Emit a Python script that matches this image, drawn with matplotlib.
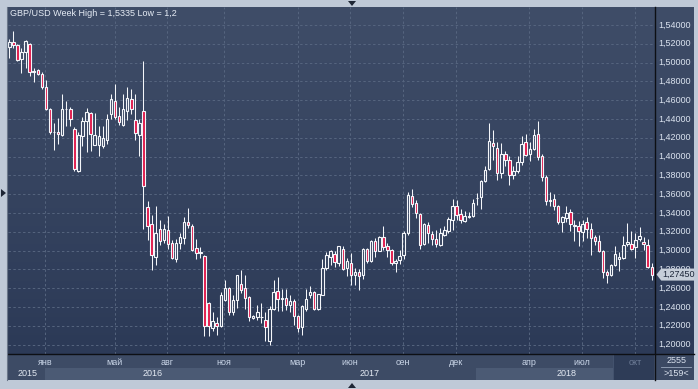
import numpy as np
import matplotlib.pyplot as plt
from matplotlib.patches import Rectangle, Polygon
from matplotlib.lines import Line2D
from matplotlib.colors import LinearSegmentedColormap

plt.rcParams['font.family'] = ['Liberation Sans', 'DejaVu Sans']

# weekly GBP/USD candles
opens = [1.5170, 1.5219, 1.5188, 1.5035, 1.5110, 1.5195, 1.4904, 1.4922, 1.4876, 1.4738,
         1.4504, 1.4257, 1.4260, 1.4232, 1.4502, 1.4504, 1.4295, 1.3842, 1.4214, 1.4377,
         1.4462, 1.4126, 1.4126, 1.4115, 1.4172, 1.4448, 1.4593, 1.4434, 1.4341, 1.4490,
         1.4614, 1.4391, 1.4225, 1.4490, 1.3464, 1.3287, 1.2933, 1.3230, 1.3117, 1.3223,
         1.3084, 1.2907, 1.3081, 1.3134, 1.3304, 1.3262, 1.3027, 1.2979, 1.2942, 1.2441,
         1.2178, 1.2228, 1.2196, 1.2470, 1.2601, 1.2352, 1.2470, 1.2647, 1.2601, 1.2502,
         1.2281, 1.2292, 1.2290, 1.2264, 1.2043, 1.2381, 1.2569, 1.2480, 1.2495, 1.2416,
         1.2463, 1.2299, 1.2186, 1.2381, 1.2523, 1.2558, 1.2374, 1.2530, 1.2814, 1.2931,
         1.2967, 1.2868, 1.3020, 1.2815, 1.2868, 1.2737, 1.2772, 1.2744, 1.3017, 1.2886,
         1.3105, 1.2999, 1.3144, 1.3045, 1.3010, 1.2868, 1.2896, 1.2957, 1.3187, 1.3577,
         1.3506, 1.3393, 1.3070, 1.3276, 1.3176, 1.3123, 1.3063, 1.3162, 1.3205, 1.3329,
         1.3471, 1.3389, 1.3311, 1.3357, 1.3364, 1.3559, 1.3570, 1.3737, 1.3868, 1.4144,
         1.4091, 1.3825, 1.4031, 1.3967, 1.3808, 1.3843, 1.3942, 1.4155, 1.4027, 1.4084,
         1.4244, 1.4003, 1.3779, 1.3524, 1.3549, 1.3478, 1.3300, 1.3347, 1.3407, 1.3258,
         1.3265, 1.3194, 1.3300, 1.3233, 1.3141, 1.3105, 1.2999, 1.2772, 1.2737, 1.2850,
         1.2910, 1.2921, 1.3070, 1.3070, 1.3035, 1.3123, 1.3095, 1.3063, 1.2825]
highs = [1.5248, 1.5335, 1.5198, 1.5152, 1.5241, 1.5212, 1.4947, 1.4933, 1.4904, 1.4816,
         1.4515, 1.4356, 1.4409, 1.4667, 1.4586, 1.4526, 1.4313, 1.4260, 1.4426, 1.4515,
         1.4469, 1.4462, 1.4327, 1.4320, 1.4455, 1.4667, 1.4773, 1.4526, 1.4667, 1.4745,
         1.4720, 1.4667, 1.4398, 1.5018, 1.3531, 1.3382, 1.3478, 1.3322, 1.3283, 1.3372,
         1.3109, 1.3127, 1.3187, 1.3358, 1.3454, 1.3287, 1.3127, 1.3038, 1.2949, 1.2452,
         1.2345, 1.2292, 1.2558, 1.2683, 1.2612, 1.2523, 1.2743, 1.2789, 1.2743, 1.2516,
         1.2313, 1.2416, 1.2445, 1.2345, 1.2409, 1.2683, 1.2718, 1.2594, 1.2587, 1.2523,
         1.2487, 1.2310, 1.2416, 1.2587, 1.2622, 1.2566, 1.2541, 1.2914, 1.2985, 1.3002,
         1.2992, 1.3052, 1.3045, 1.2921, 1.2974, 1.2815, 1.2804, 1.3027, 1.3027, 1.3116,
         1.3134, 1.3159, 1.3265, 1.3081, 1.3017, 1.2910, 1.3003, 1.3205, 1.3620, 1.3655,
         1.3542, 1.3400, 1.3293, 1.3300, 1.3205, 1.3215, 1.3240, 1.3265, 1.3354, 1.3549,
         1.3542, 1.3442, 1.3418, 1.3407, 1.3549, 1.3613, 1.3747, 1.3903, 1.4357, 1.4286,
         1.4152, 1.4144, 1.4056, 1.4003, 1.3903, 1.4003, 1.4222, 1.4244, 1.4152, 1.4293,
         1.4377, 1.4027, 1.3808, 1.3620, 1.3605, 1.3488, 1.3371, 1.3478, 1.3442, 1.3329,
         1.3311, 1.3329, 1.3357, 1.3293, 1.3169, 1.3169, 1.3010, 1.2797, 1.2861, 1.3052,
         1.2981, 1.3152, 1.3293, 1.3212, 1.3187, 1.3247, 1.3141, 1.3123, 1.2868]
lows = [1.5046, 1.5152, 1.5021, 1.4894, 1.4947, 1.4858, 1.4798, 1.4869, 1.4720, 1.4497,
        1.4242, 1.4072, 1.4136, 1.4221, 1.4327, 1.4320, 1.3842, 1.3832, 1.4108, 1.4044,
        1.4055, 1.4124, 1.4002, 1.4090, 1.4136, 1.4402, 1.4398, 1.4338, 1.4327, 1.4391,
        1.4451, 1.4179, 1.4002, 1.3230, 1.3117, 1.2798, 1.2844, 1.3060, 1.3081, 1.3018,
        1.2907, 1.2878, 1.3020, 1.3066, 1.3240, 1.2995, 1.2914, 1.2921, 1.2090, 1.2090,
        1.2143, 1.2107, 1.2186, 1.2459, 1.2310, 1.2310, 1.2388, 1.2548, 1.2374, 1.2246,
        1.2267, 1.2257, 1.2232, 1.2043, 1.2000, 1.2370, 1.2356, 1.2356, 1.2370, 1.2345,
        1.2210, 1.2139, 1.2104, 1.2356, 1.2498, 1.2370, 1.2372, 1.2523, 1.2789, 1.2843,
        1.2825, 1.2832, 1.2790, 1.2726, 1.2637, 1.2630, 1.2577, 1.2698, 1.2868, 1.2879,
        1.2928, 1.2992, 1.3010, 1.2928, 1.2850, 1.2769, 1.2861, 1.2910, 1.3162, 1.3464,
        1.3347, 1.3017, 1.3063, 1.3081, 1.3063, 1.3038, 1.3052, 1.3152, 1.3187, 1.3215,
        1.3329, 1.3293, 1.3308, 1.3347, 1.3357, 1.3488, 1.3446, 1.3726, 1.3854, 1.3967,
        1.3754, 1.3772, 1.3896, 1.3701, 1.3761, 1.3825, 1.3914, 1.4003, 1.3957, 1.4074,
        1.3967, 1.3737, 1.3481, 1.3471, 1.3428, 1.3286, 1.3194, 1.3300, 1.3205, 1.3098,
        1.3045, 1.3098, 1.3134, 1.2949, 1.3063, 1.2981, 1.2708, 1.2655, 1.2726, 1.2840,
        1.2779, 1.2914, 1.3052, 1.3010, 1.2921, 1.3105, 1.3010, 1.2815, 1.2691]
closes = [1.5219, 1.5191, 1.5028, 1.5110, 1.5230, 1.4897, 1.4906, 1.4876, 1.4745, 1.4508,
          1.4257, 1.4259, 1.4235, 1.4504, 1.4504, 1.4398, 1.3867, 1.4225, 1.4377, 1.4472,
          1.4235, 1.4228, 1.4218, 1.4200, 1.4402, 1.4611, 1.4416, 1.4363, 1.4504, 1.4625,
          1.4511, 1.4249, 1.4356, 1.3683, 1.3258, 1.2950, 1.3187, 1.3099, 1.3230, 1.3074,
          1.2921, 1.3081, 1.3145, 1.3304, 1.3269, 1.3002, 1.2974, 1.2984, 1.2196, 1.2196,
          1.2246, 1.2193, 1.2523, 1.2601, 1.2352, 1.2477, 1.2736, 1.2583, 1.2495, 1.2292,
          1.2303, 1.2345, 1.2294, 1.2186, 1.2381, 1.2558, 1.2480, 1.2495, 1.2423, 1.2463,
          1.2299, 1.2175, 1.2406, 1.2487, 1.2558, 1.2374, 1.2534, 1.2814, 1.2949, 1.2992,
          1.2875, 1.3045, 1.2804, 1.2886, 1.2740, 1.2772, 1.2726, 1.3017, 1.2886, 1.3105,
          1.2999, 1.3144, 1.3038, 1.3010, 1.2868, 1.2893, 1.2946, 1.3187, 1.3595, 1.3499,
          1.3400, 1.3056, 1.3283, 1.3187, 1.3123, 1.3070, 1.3187, 1.3222, 1.3340, 1.3471,
          1.3382, 1.3322, 1.3364, 1.3371, 1.3506, 1.3563, 1.3737, 1.3861, 1.4162, 1.4109,
          1.3825, 1.4031, 1.3967, 1.3808, 1.3843, 1.3942, 1.4134, 1.4013, 1.4084, 1.4233,
          1.3996, 1.3779, 1.3531, 1.3542, 1.3471, 1.3300, 1.3354, 1.3400, 1.3283, 1.3276,
          1.3212, 1.3283, 1.3230, 1.3134, 1.3105, 1.2999, 1.2772, 1.2737, 1.2850, 1.2967,
          1.2928, 1.3056, 1.3088, 1.3017, 1.3116, 1.3159, 1.3074, 1.2825, 1.2745]

# month labels at their bar index, year labels
month_pos = [8.9, 25.9, 38.8, 52.8, 70.9, 83.8, 96.8, 109.9, 127.8, 140.9, 153.9]
month_lbl = ['янв', 'май', 'авг', 'ноя', 'мар', 'июн', 'сен', 'дек', 'апр', 'июл', 'окт']
year_pos = [4.6, 35.3, 88.5, 137.0]
year_lbl = ['2015', '2016', '2017', '2018']
year_edges = [8.8, 61.7, 114.8, 148.5]
levels = np.arange(1.20, 1.5401, 0.02)
last_price = 1.2745

W, H = 698, 389
fig = plt.figure(figsize=(W / 100, H / 100), dpi=100)
fig.patch.set_facecolor('#bfc9d7')


def box(x0, y0, x1, y1):
    # pixel box (top-left origin) -> figure rect
    return [x0 / W, 1 - y1 / H, (x1 - x0) / W, (y1 - y0) / H]


def fxy(x, y):
    return (x / W, 1 - y / H)


x_lo, x_hi = -0.32, 158.8
y_lo, y_hi = 1.19, 1.5591

ax = fig.add_axes(box(8, 7, 655, 354))
ax_r = fig.add_axes(box(655, 7, 694, 354))
ax_b = fig.add_axes(box(8, 354, 655, 380))
ax_c = fig.add_axes(box(655, 354, 694, 380))
for a in (ax, ax_r, ax_b, ax_c):
    a.set_axis_off()

grad_cmap = LinearSegmentedColormap.from_list('bg', ['#2c3a57', '#3f4d68'])
grad = np.linspace(0, 1, 256).reshape(-1, 1)
ax.imshow(grad, extent=[x_lo, x_hi, y_lo, y_hi], origin='lower', aspect='auto',
          cmap=grad_cmap, zorder=0)
ax_r.imshow(grad, extent=[0, 1, y_lo, y_hi], origin='lower', aspect='auto',
            cmap=grad_cmap, zorder=0)

# dashed grid
for lv in levels:
    ax.axhline(lv, color='#56657f', lw=0.7, ls=(0, (2.5, 2.5)), zorder=1)
for mp in month_pos:
    ax.axvline(mp, color='#56657f', lw=0.7, ls=(0, (2.5, 2.5)), zorder=1)

# candles
bw = 0.6
for i, (o, h, l, c) in enumerate(zip(opens, highs, lows, closes)):
    top, bot = max(o, c), min(o, c)
    ax.plot([i, i], [top, h], color='#f4f6fa', lw=0.75, zorder=2, solid_capstyle='butt')
    ax.plot([i, i], [l, bot], color='#f4f6fa', lw=0.75, zorder=2, solid_capstyle='butt')
    fc = '#e0194b' if c < o else 'none'
    ax.add_patch(Rectangle((i - bw / 2, bot), bw, top - bot, facecolor=fc,
                           edgecolor='#f4f6fa', lw=0.8, zorder=3))

ax.set_xlim(x_lo, x_hi)
ax.set_ylim(y_lo, y_hi)

# right price scale
ax_r.set_xlim(0, 1)
ax_r.set_ylim(y_lo, y_hi)
for lv in levels:
    ax_r.text(0.08, lv, f'{lv:.5f}'.replace('.', ','), color='#dbe3ef', fontsize=6.5,
              va='center', ha='left', zorder=2)
hh = 0.0064
ax_r.add_patch(Polygon([(0.04, last_price), (0.16, last_price + hh), (1.0, last_price + hh),
                        (1.0, last_price - hh), (0.16, last_price - hh)],
                       closed=True, facecolor='#c6ced9', edgecolor='none', zorder=3))
ax_r.text(0.18, last_price, f'{last_price:.5f}'.replace('.', ','), color='#1b2538',
          fontsize=6.5, va='center', ha='left', zorder=4)

# bottom time scale
ax_b.set_xlim(x_lo, x_hi)
ax_b.set_ylim(0, 1)
ax_b.add_patch(Rectangle((x_lo, 0), x_hi - x_lo, 1, facecolor='#3d4b65', edgecolor='none', zorder=0))
ax_b.add_patch(Rectangle((year_edges[0], 0), year_edges[1] - year_edges[0], 0.47,
                         facecolor='#4b5a74', edgecolor='none', zorder=1))
ax_b.add_patch(Rectangle((year_edges[2], 0), year_edges[3] - year_edges[2], 0.47,
                         facecolor='#4b5a74', edgecolor='none', zorder=1))
ax_b.add_patch(Rectangle((year_edges[3], 0), x_hi - year_edges[3] - 0.3, 1,
                         facecolor='#2e3c57', edgecolor='#465571', lw=0.6, zorder=1))
for mp, ml in zip(month_pos, month_lbl):
    col = '#6f7e98' if ml == 'окт' else '#c9d5e7'
    ax_b.text(mp, 0.66, ml, color=col, fontsize=6.5, ha='center', va='center', zorder=2)
for yp, yl in zip(year_pos, year_lbl):
    ax_b.text(yp, 0.25, yl, color='#e4eaf3', fontsize=6.5, ha='center', va='center', zorder=2)

# bottom-right counter box
ax_c.set_xlim(0, 1)
ax_c.set_ylim(0, 1)
ax_c.add_patch(Rectangle((0, 0), 1, 1, facecolor='#3b4963', edgecolor='none'))
ax_c.text(0.55, 0.74, '2555', color='#dbe3ef', fontsize=6.5, ha='center', va='center')
ax_c.plot([0.15, 0.92], [0.49, 0.49], color='#9aa8bd', lw=0.6)
ax_c.text(0.55, 0.24, '>159<', color='#dbe3ef', fontsize=6.5, ha='center', va='center')

# frame lines
fig.add_artist(Line2D([655 / W, 655 / W], [1 - 7 / H, 1 - 380 / H], color='#0d0f14', lw=1.0))
fig.add_artist(Line2D([8 / W, 694 / W], [1 - 354 / H, 1 - 354 / H], color='#0d0f14', lw=1.0))
fig.add_artist(Line2D([7.5 / W, 7.5 / W], [1 - 7 / H, 1 - 380 / H], color='#6b778a', lw=0.8))

# small scroll markers
fig.add_artist(Polygon([fxy(348, 1), fxy(356, 1), fxy(352, 6)], closed=True,
                       facecolor='#1e2635', edgecolor='none', transform=fig.transFigure))
fig.add_artist(Polygon([fxy(348, 388), fxy(356, 388), fxy(352, 383)], closed=True,
                       facecolor='#1e2635', edgecolor='none', transform=fig.transFigure))
fig.add_artist(Polygon([fxy(1, 189), fxy(1, 197), fxy(6, 193)], closed=True,
                       facecolor='#1e2635', edgecolor='none', transform=fig.transFigure))

fig.text(10 / W, 1 - 13.5 / H, 'GBP/USD Week High = 1,5335 Low = 1,2', color='#e6ecf5',
         fontsize=6.5, ha='left', va='center')

fig.savefig('out.png', dpi=100, facecolor=fig.get_facecolor())
